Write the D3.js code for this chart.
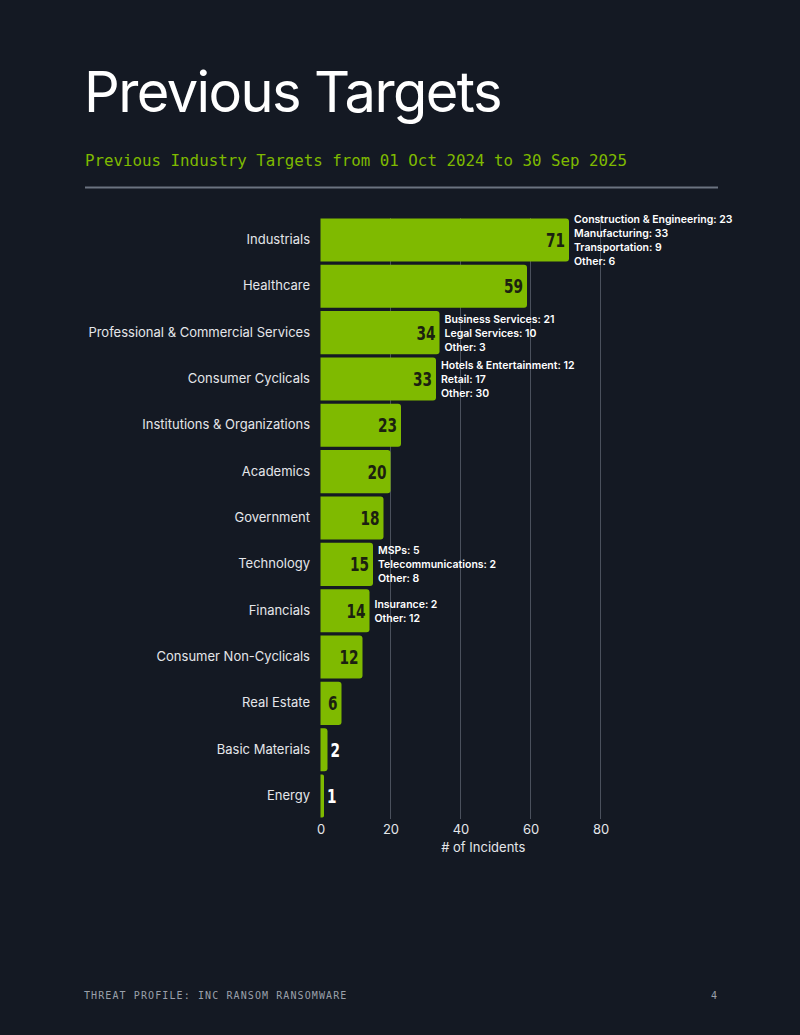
<!DOCTYPE html>
<html>
<head>
<meta charset="utf-8">
<script src="https://cdn.jsdelivr.net/npm/d3@7"></script>
<style>
  body { margin: 0; background: #141923; }
  svg { display: block; }
</style>
</head>
<body>
<svg id="chart" width="800" height="1035"></svg>
<script>
var sectors = ["Industrials", "Healthcare", "Professional & Commercial Services", "Consumer Cyclicals",
  "Institutions & Organizations", "Academics", "Government", "Technology", "Financials",
  "Consumer Non-Cyclicals", "Real Estate", "Basic Materials", "Energy"];
var incidents = [71, 59, 34, 33, 23, 20, 18, 15, 14, 12, 6, 2, 1];
var breakdowns = [
  ["Construction & Engineering: 23", "Manufacturing: 33", "Transportation: 9", "Other: 6"],
  [],
  ["Business Services: 21", "Legal Services: 10", "Other: 3"],
  ["Hotels & Entertainment: 12", "Retail: 17", "Other: 30"],
  [], [], [],
  ["MSPs: 5", "Telecommunications: 2", "Other: 8"],
  ["Insurance: 2", "Other: 12"],
  [], [], [], []
];
var xTicks = [0, 20, 40, 60, 80];

var svg = d3.select("#chart");
var green = "#7fba00";
var bg = "#141923";

svg.append("rect").attr("width", 800).attr("height", 1035).attr("fill", bg);

// header
svg.append("text")
  .attr("x", 84).attr("y", 112)
  .attr("fill", "#ffffff")
  .style("font-family", "Inter, sans-serif")
  .style("font-size", "56px")
  .style("font-weight", 400)
  .style("letter-spacing", "-1.6px")
  .text("Previous Targets");

svg.append("text")
  .attr("x", 85).attr("y", 166)
  .attr("fill", green)
  .style("font-family", "'DejaVu Sans Mono', monospace")
  .style("font-size", "15.8px")
  .text("Previous Industry Targets from 01 Oct 2024 to 30 Sep 2025");

svg.append("line")
  .attr("x1", 85).attr("x2", 718).attr("y1", 187.5).attr("y2", 187.5)
  .attr("stroke", "#6b7380").attr("stroke-width", 2);

// scales
var x = d3.scaleLinear().domain([0, 93]).range([320.5, 646]);
var y = d3.scaleBand().domain(sectors).range([217, 819]).paddingInner(0.07).paddingOuter(0.03);

// grid
svg.append("g").selectAll("line")
  .data(xTicks.slice(1))
  .enter().append("line")
    .attr("x1", function(d) { return x(d); })
    .attr("x2", function(d) { return x(d); })
    .attr("y1", 218).attr("y2", 819)
    .attr("stroke", "#4a505c").attr("stroke-width", 1);

// bars, rounded on the right
var r = 3;
function barPath(d, i) {
  var x0 = x(0), x1 = x(d), y0 = y(sectors[i]), h = y.bandwidth();
  var rr = Math.min(r, (x1 - x0) / 2);
  return "M" + x0 + "," + y0 +
    "H" + (x1 - rr) + "Q" + x1 + "," + y0 + " " + x1 + "," + (y0 + rr) +
    "V" + (y0 + h - rr) + "Q" + x1 + "," + (y0 + h) + " " + (x1 - rr) + "," + (y0 + h) +
    "H" + x0 + "Z";
}

svg.append("g").selectAll("path")
  .data(incidents)
  .enter().append("path")
    .attr("d", barPath)
    .attr("fill", green);

// value labels (squeezed horizontally to look condensed)
function inside(d) { return x(d) - x(0) > 16; }
svg.append("g").selectAll("text")
  .data(incidents)
  .enter().append("text")
    .attr("transform", function(d, i) {
      var tx = inside(d) ? x(d) - 4 : x(d) + 3;
      return "translate(" + tx + "," + (y(sectors[i]) + y.bandwidth() / 2 + 7) + ") scale(0.72,1)";
    })
    .attr("text-anchor", function(d) { return inside(d) ? "end" : "start"; })
    .attr("fill", function(d) { return inside(d) ? "#1b2110" : "#ffffff"; })
    .style("font-family", "'DejaVu Sans', sans-serif")
    .style("font-size", "19px")
    .style("font-weight", 700)
    .text(function(d) { return d; });

// category labels
svg.append("g").selectAll("text")
  .data(sectors)
  .enter().append("text")
    .attr("x", 310)
    .attr("y", function(d) { return y(d) + y.bandwidth() / 2 + 4; })
    .attr("text-anchor", "end")
    .attr("fill", "#e4e6ea")
    .style("font-family", "Inter, sans-serif")
    .style("font-size", "13px")
    .text(function(d) { return d; });

// sub-industry breakdowns
var lineH = 14;
breakdowns.forEach(function(lines, i) {
  if (!lines.length) return;
  var cy = y(sectors[i]) + y.bandwidth() / 2;
  var top = cy - (lines.length - 1) * lineH / 2 + 4;
  var t = svg.append("text")
    .attr("fill", "#ffffff")
    .style("font-family", "Inter, sans-serif")
    .style("font-size", "10.5px")
    .style("font-weight", 600);
  lines.forEach(function(s, j) {
    t.append("tspan")
      .attr("x", x(incidents[i]) + 5)
      .attr("y", top + j * lineH)
      .text(s);
  });
});

// x axis
var xAxis = svg.append("g")
  .attr("transform", "translate(0,819)")
  .call(d3.axisBottom(x).tickValues(xTicks).tickSize(0).tickPadding(6));
xAxis.select(".domain").remove();
xAxis.selectAll("text")
  .attr("fill", "#e4e6ea")
  .style("font-family", "Inter, sans-serif")
  .style("font-size", "13px");

svg.append("text")
  .attr("x", (x.range()[0] + x.range()[1]) / 2)
  .attr("y", 852)
  .attr("text-anchor", "middle")
  .attr("fill", "#e4e6ea")
  .style("font-family", "Inter, sans-serif")
  .style("font-size", "13px")
  .text("# of Incidents");

// footer
svg.append("text")
  .attr("x", 84).attr("y", 999)
  .attr("fill", "#9aa0aa")
  .style("font-family", "'DejaVu Sans Mono', monospace")
  .style("font-size", "10px")
  .style("letter-spacing", "1.1px")
  .text("THREAT PROFILE: INC RANSOM RANSOMWARE");

svg.append("text")
  .attr("x", 717).attr("y", 999)
  .attr("text-anchor", "end")
  .attr("fill", "#9aa0aa")
  .style("font-family", "'DejaVu Sans Mono', monospace")
  .style("font-size", "10px")
  .text("4");
</script>
</body>
</html>
